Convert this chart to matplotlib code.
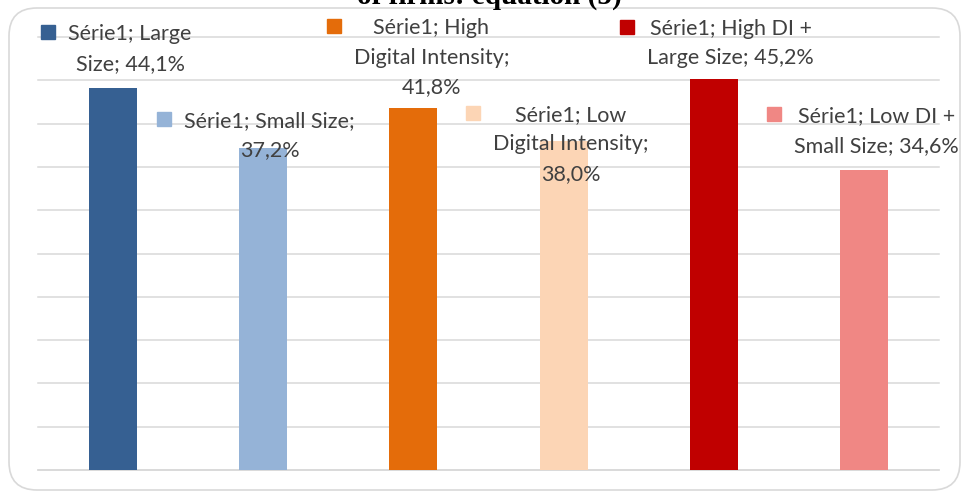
import textwrap
import matplotlib
matplotlib.use('Agg')
import matplotlib.pyplot as plt
from matplotlib.patches import Rectangle, FancyBboxPatch
from matplotlib.transforms import IdentityTransform

# data
series_name = "Série1"
categories = ["Large Size", "Small Size", "High Digital Intensity",
              "Low Digital Intensity", "High DI + Large Size", "Low DI + Small Size"]
values = [44.1, 37.2, 41.8, 38.0, 45.2, 34.6]
colors = ["#366092", "#95B3D7", "#E46C0A", "#FCD5B5", "#C00000", "#F08784"]
title = "of firms: equation (5)"


def fmt(v):
    return f"{v:.1f}".replace(".", ",") + "%"


fig = plt.figure(figsize=(9.65, 4.95), dpi=100)
ax = fig.add_axes([38/965, 25/495, 901/965, 433/495])

x = list(range(len(values)))
ax.bar(x, values, width=0.32, color=colors, zorder=3)
ax.set_xlim(-0.5, len(values) - 0.5)
ax.set_ylim(0, 50)
ax.set_yticks(range(0, 51, 5))
ax.set_xticks(x)
ax.grid(axis='y', color='#d9d9d9', lw=1.1)
ax.set_axisbelow(True)
for ln in ax.get_ygridlines():
    ln.set_clip_on(False)
ax.tick_params(left=False, bottom=False, labelleft=False, labelbottom=False)
for s in ['left', 'right', 'top']:
    ax.spines[s].set_visible(False)
ax.spines['bottom'].set_color('#d9d9d9')
ax.spines['bottom'].set_linewidth(1.1)

# data labels, excel style with legend key
wrap_width = [13, 19, 18, 18, 17, 17]
label_dx = [17, 6.5, 18, 7, 17, 12.5]   # px, bar centre -> text centre
label_dy = [48, 21, 74, 20, 44, 48]     # px, bar top -> first baseline
line_step = 29.5

renderer = fig.canvas.get_renderer()
for i, (cat, v, c) in enumerate(zip(categories, values, colors)):
    lines = textwrap.wrap(f"{series_name}; {cat}; {fmt(v)}", wrap_width[i])
    texts = []
    for k, line in enumerate(lines):
        t = ax.annotate(line, xy=(i, v), xytext=(label_dx[i], label_dy[i] - k*line_step),
                        textcoords='offset pixels', ha='center', va='baseline',
                        fontsize=15.5, family='Lato', color='#404040', zorder=5,
                        annotation_clip=False)
        texts.append(t)
    left = min(t.get_window_extent(renderer).x0 for t in texts)
    base = ax.transData.transform((i, v))[1] + label_dy[i]
    fig.add_artist(Rectangle((left - 13 - 14, base + 1), 14, 14,
                             transform=IdentityTransform(), color=c, zorder=5))

# rounded chart border
fig.add_artist(FancyBboxPatch((9, 5), 951, 482, boxstyle='round,pad=0,rounding_size=28',
                              transform=IdentityTransform(), fc='none', ec='#d9d9d9', lw=1.2))

# title, cut off by the top of the image like in the source
fig.text(489/965, 1 - 4/495, title, ha='center', va='baseline', family='Liberation Serif',
         weight='bold', fontsize=21, color='black')

fig.savefig('out.png', dpi=100)
